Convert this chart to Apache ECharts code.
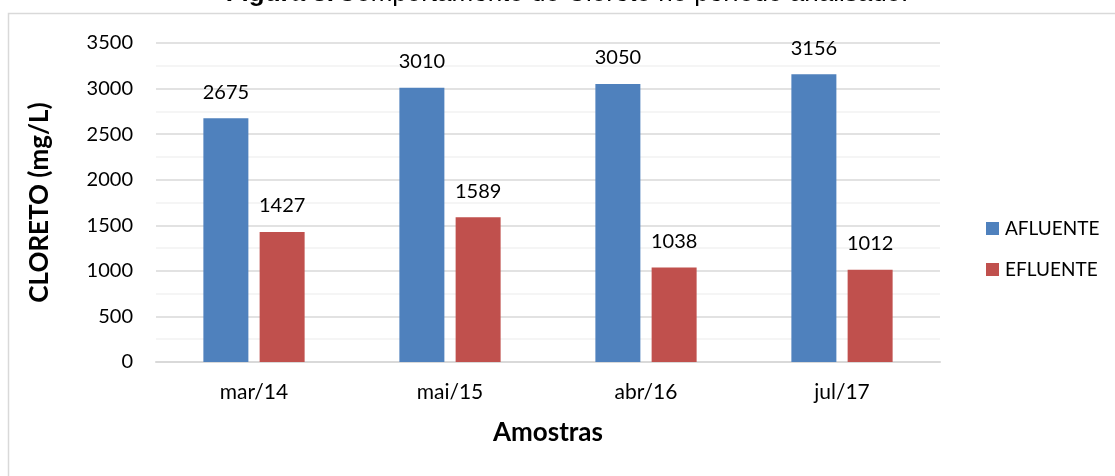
<!DOCTYPE html>
<html>
<head>
<meta charset="utf-8">
<script src="https://cdn.jsdelivr.net/npm/echarts@6/dist/echarts.min.js"></script>
<style>html,body{margin:0;padding:0;background:#fff}#c{width:1115px;height:476px}</style>
</head>
<body>
<div id="c"></div>
<script>
const categories = ['mar/14', 'mai/15', 'abr/16', 'jul/17'];
const afluente = [2675, 3010, 3050, 3156];
const efluente = [1427, 1589, 1038, 1012];
const seriesNames = ['AFLUENTE', 'EFLUENTE'];
const yTicks = { min: 0, max: 3500, interval: 500 };

const font = 'Lato, "Open Sans", sans-serif';
const chart = echarts.init(document.getElementById('c'), null, { renderer: 'canvas' });
chart.setOption({
  animation: false,
  backgroundColor: '#fff',
  graphic: [{
    type: 'rect', shape: { x: 8.5, y: 13.5, width: 1200, height: 600 },
    style: { fill: 'none', stroke: '#d9d9d9', lineWidth: 1.5 }, silent: true, z: -1
  }, {
    type: 'text', x: 567, y: 7, silent: true,
    style: {
      text: '{b|Figura 3.} {n|Comportamento do Cloreto no período analisado.}',
      align: 'center', verticalAlign: 'bottom',
      rich: {
        b: { fontFamily: '"Liberation Sans", Arial', fontWeight: 'bold', fontSize: 26, fill: '#000' },
        n: { fontFamily: '"Liberation Sans", Arial', fontSize: 26, fill: '#000' }
      }
    }
  }],
  grid: { left: 156, right: 175, top: 43, bottom: 114 },
  legend: {
    orient: 'vertical', left: 981, top: 214, itemGap: 22,
    itemWidth: 13, itemHeight: 13, icon: 'rect',
    textStyle: { fontFamily: font, fontSize: 19, color: '#000', padding: [0, 0, 0, 1] },
    data: seriesNames
  },
  xAxis: {
    type: 'category', data: categories,
    axisLine: { lineStyle: { color: '#d9d9d9', width: 2 } },
    axisTick: { show: false },
    axisLabel: { fontFamily: font, fontSize: 21, color: '#000', margin: 20 },
    name: 'Amostras', nameLocation: 'middle', nameGap: 58,
    nameTextStyle: { fontFamily: font, fontSize: 26, fontWeight: 'bold', color: '#000' }
  },
  yAxis: {
    type: 'value', min: yTicks.min, max: yTicks.max, interval: yTicks.interval,
    axisLine: { show: false }, axisTick: { show: false },
    axisLabel: { fontFamily: font, fontSize: 20, color: '#000', margin: 23, formatter: v => String(v) },
    splitLine: { lineStyle: { color: '#d9d9d9', width: 1.5 } },
    minorTick: { show: false, splitNumber: 2 },
    minorSplitLine: { show: true, lineStyle: { color: '#f2f2f2', width: 1.5 } },
    name: 'CLORETO (mg/L)', nameLocation: 'middle', nameGap: 103,
    nameTextStyle: { fontFamily: font, fontSize: 26, fontWeight: 'bold', color: '#000' }
  },
  series: [
    {
      name: seriesNames[0], type: 'bar', data: afluente, barWidth: 45, barGap: '25%',
      itemStyle: { color: '#4f81bd' },
      label: { show: true, position: 'top', distance: 16, fontFamily: font, fontSize: 20, color: '#000' }
    },
    {
      name: seriesNames[1], type: 'bar', data: efluente, barWidth: 45,
      itemStyle: { color: '#c0504d' },
      label: { show: true, position: 'top', distance: 16, fontFamily: font, fontSize: 20, color: '#000' }
    }
  ]
});
</script>
</body>
</html>
